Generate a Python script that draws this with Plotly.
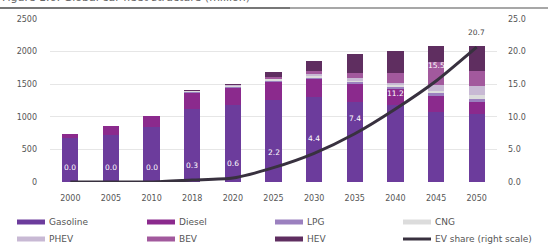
import plotly.graph_objects as go

# ---------------- data ----------------
years = ["2000", "2005", "2010", "2018", "2020", "2025", "2030", "2035", "2040", "2045", "2050"]
gasoline = [670, 727, 843, 1125, 1187, 1264, 1300, 1227, 1180, 1080, 1049]
diesel = [70, 130, 170, 240, 255, 270, 280, 282, 250, 250, 190]
lpg = [0, 0, 0, 30, 30, 30, 30, 30, 30, 30, 30]
cng = [0, 0, 0, 10, 15, 17, 20, 20, 25, 40, 60]
phev = [0, 0, 0, 0, 5, 10, 20, 30, 40, 90, 140]
bev = [0, 0, 0, 0, 5, 20, 50, 80, 150, 350, 240]
hev = [0, 0, 0, 1, 5, 70, 160, 300, 330, 240, 380]
ev_share = [0.0, 0.0, 0.0, 0.3, 0.6, 2.2, 4.4, 7.4, 11.2, 15.5, 20.7]

series_names = ["Gasoline", "Diesel", "LPG", "CNG", "PHEV", "BEV", "HEV"]
series_values = [gasoline, diesel, lpg, cng, phev, bev, hev]
series_colors = ["#6c3c9c", "#8b2a8d", "#9b80bf", "#dcdcdc", "#c8b9d4", "#a2599d", "#5f2e60"]
line_name = "EV share (right scale)"
line_color = "#38313f"
title_text = "Figure 1.6: Global car fleet structure (million)"

# ---------------- layout geometry (pixels) ----------------
W, H = 548, 248
L, R, T, B = 50, 51, 19, 66
PW, PH = W - L - R, H - T - B


def px_x(px):
    return (px - L) / PW


def px_y(py):
    return (H - B - py) / PH


fig = go.Figure()
for name, vals, col in zip(series_names, series_values, series_colors):
    fig.add_trace(go.Bar(x=years, y=vals, name=name, marker=dict(color=col, line=dict(width=0)),
                         showlegend=False))

fig.add_trace(go.Scatter(x=years, y=ev_share, name=line_name, mode="lines", yaxis="y2",
                         line=dict(color=line_color, width=3, shape="spline", smoothing=0.6),
                         showlegend=False))

annotations = []
for i, v in enumerate(ev_share):
    annotations.append(dict(x=i, y=v, xref="x", yref="y2", text=f"{v:.1f}", showarrow=False,
                            yshift=15, font=dict(family="DejaVu Sans", size=7.5,
                                                 color="#444444" if i == len(ev_share) - 1 else "white"),
                            ))

# title (partly cut at the top of the picture)
annotations.append(dict(x=px_x(0), y=px_y(6), xref="paper", yref="paper", xanchor="left",
                        yanchor="bottom", text=title_text, showarrow=False,
                        font=dict(family="DejaVu Sans", size=11, color="#666666")))

shapes = [dict(type="line", xref="paper", yref="paper", x0=px_x(0), x1=px_x(290),
               y0=px_y(8), y1=px_y(8), line=dict(color="#4a4a4a", width=1.5)),
          dict(type="line", xref="paper", yref="paper", x0=px_x(290), x1=px_x(548),
               y0=px_y(8), y1=px_y(8), line=dict(color="#8a8a8a", width=1.5))]

# custom legend: 4 columns x 2 rows
legend_names = series_names + [line_name]
legend_colors = series_colors + [line_color]
col_x = [17, 147, 275, 403]
row_y = [222, 239]
for k, (nm, col) in enumerate(zip(legend_names, legend_colors)):
    cx = col_x[k % 4]
    ry = row_y[k // 4]
    if nm == line_name:
        shapes.append(dict(type="line", xref="paper", yref="paper", x0=px_x(cx), x1=px_x(cx + 28),
                           y0=px_y(ry), y1=px_y(ry), line=dict(color=col, width=3)))
    else:
        shapes.append(dict(type="rect", xref="paper", yref="paper", x0=px_x(cx), x1=px_x(cx + 28),
                           y0=px_y(ry + 2.5), y1=px_y(ry - 2.5), line=dict(width=0), fillcolor=col))
    annotations.append(dict(x=px_x(cx + 30), y=px_y(ry), xref="paper", yref="paper", xanchor="left",
                            yanchor="middle", text=nm, showarrow=False,
                            font=dict(family="DejaVu Sans", size=9, color="#555555")))

fig.update_layout(
    width=W, height=H,
    margin=dict(l=L, r=R, t=T, b=B, pad=0, autoexpand=False),
    paper_bgcolor="white", plot_bgcolor="white",
    barmode="stack", bargap=0.6,
    font=dict(family="DejaVu Sans", size=8, color="#555555"),
    xaxis=dict(type="category", categoryorder="array", categoryarray=years, showgrid=False,
               ticks="", showline=False, zeroline=False, automargin=False,
               tickfont=dict(size=8, color="#555555"), ticklabelstandoff=10),
    yaxis=dict(range=[0, 2500], dtick=500, showgrid=True, gridcolor="#e6e6e6", gridwidth=1,
               zeroline=False, showline=False, ticks="", automargin=False,
               tickfont=dict(size=8, color="#555555"), ticklabelstandoff=12),
    yaxis2=dict(range=[0, 25], dtick=5, overlaying="y", side="right", showgrid=False,
                zeroline=False, showline=False, ticks="", tickformat=".1f", automargin=False,
                tickfont=dict(size=8, color="#555555"), ticklabelstandoff=10),
    annotations=annotations,
    shapes=shapes,
    showlegend=False,
)

fig.write_html("out.html", config={"displayModeBar": False},
               post_script="document.body.style.margin='0';document.body.style.overflow='hidden';")
